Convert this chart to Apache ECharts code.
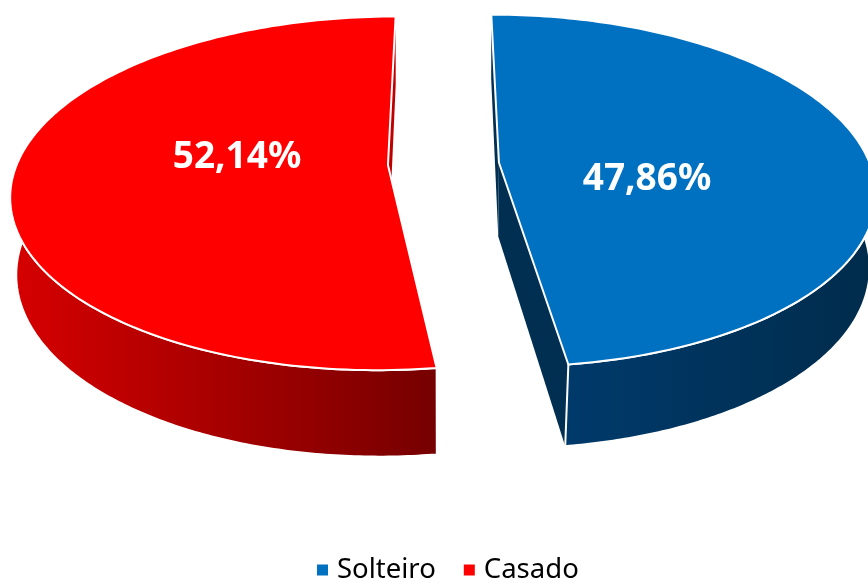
<!DOCTYPE html>
<html>
<head>
<meta charset="utf-8">
<title>Estado civil</title>
<script src="https://cdn.jsdelivr.net/npm/echarts@6/dist/echarts.min.js"></script>
<style>
html, body { margin: 0; padding: 0; background: #fff; }
#chart { width: 868px; height: 583px; }
</style>
</head>
<body>
<div id="chart"></div>
<script>
// dados
var categories = ['Solteiro', 'Casado'];
var shares = [47.86, 52.14];

// cores
var topColors = ['#0070c0', '#ff0000'];
var wallColors = ['#002f52', '#c00000'];
var sideStops = [['#003a6b', '#002c4c'], ['#d60000', '#760000']];
var sideRange = [[567, 868], [13, 436]];
var explode = [[55.5, -1.5], [-55.5, 1]];
var labelPos = [[647, 179], [237, 157]];
var depths = [75, 79];

// projecao do disco inclinado (perspectiva)
var cx = 443.5, cy = 164, radiusX = 371, radiusY = 172, tilt = 0.16, tiltLow = 0.15, shrink = 0.012;

function project(slice, theta, r, low) {
    var u = explode[slice][0] + radiusX * r * Math.sin(theta);
    var v = explode[slice][1] - radiusY * r * Math.cos(theta);
    var w = low ? 1 - tiltLow * v / radiusY + shrink : 1 - tilt * v / radiusY;
    return [cx + u / w, cy + (v + (low ? depths[slice] : 0)) / w];
}

function arcPoints(slice, from, to, low) {
    var pts = [], n = 160;
    for (var i = 0; i <= n; i++) {
        pts.push(project(slice, from + (to - from) * i / n, 1, low));
    }
    return pts;
}

function renderSlice(slice) {
    return function (params, api) {
        var total = shares[0] + shares[1];
        var start = slice === 0 ? 0 : shares[0] / total * Math.PI * 2;
        var end = start + api.value(0) / total * Math.PI * 2;

        // parte de fora visivel: so a metade da frente do disco
        var sideFrom = Math.max(start, Math.PI / 2 - 0.1);
        var sideTo = Math.min(end, Math.PI * 1.5 + 0.1);
        var sideTop = arcPoints(slice, sideFrom, sideTo, false);
        var sideLow = arcPoints(slice, sideFrom, sideTo, true).reverse();

        var apex = project(slice, 0, 0, false);
        var apexLow = project(slice, 0, 0, true);
        var edge = slice === 0 ? end : start;
        var backEdge = slice === 0 ? start : end;

        var children = [];
        // parede de tras
        children.push({
            type: 'polygon',
            shape: { points: [project(slice, backEdge, 1, false), apex, apexLow, project(slice, backEdge, 1, true)] },
            style: { fill: wallColors[slice] }
        });
        // parede da frente (so o azul mostra)
        if (slice === 0) {
            children.push({
                type: 'polygon',
                shape: { points: [apex, project(slice, edge, 1, false), project(slice, edge, 1, true), apexLow] },
                style: { fill: wallColors[slice] }
            });
        }
        children.push({
            type: 'polygon',
            shape: { points: sideTop.concat(sideLow) },
            style: {
                fill: new echarts.graphic.LinearGradient(sideRange[slice][0], 0, sideRange[slice][1], 0, [
                    { offset: 0, color: sideStops[slice][0] },
                    { offset: 1, color: sideStops[slice][1] }
                ], true),
                stroke: '#fff',
                lineWidth: 2
            }
        });
        // face de cima
        children.push({
            type: 'polygon',
            shape: { points: [apex].concat(arcPoints(slice, start, end, false)) },
            style: { fill: topColors[slice], stroke: '#fff', lineWidth: 2, lineJoin: 'round' }
        });
        children.push({
            type: 'text',
            style: {
                x: labelPos[slice][0],
                y: labelPos[slice][1],
                text: api.value(0).toFixed(2).replace('.', ',') + '%',
                fill: '#fff',
                font: 'bold 37px "Noto Sans"',
                align: 'center',
                verticalAlign: 'middle'
            }
        });
        return { type: 'group', children: children };
    };
}

var myChart = echarts.init(document.getElementById('chart'), null, { renderer: 'canvas' });

var series = categories.map(function (name, i) {
    return {
        name: name,
        type: 'custom',
        coordinateSystem: 'none',
        renderItem: renderSlice(i),
        itemStyle: { color: topColors[i] },
        data: [[shares[i]]],
        silent: true,
        clip: false
    };
});

var option = {
    backgroundColor: '#fff',
    animation: false,
    legend: {
        data: categories,
        left: 312,
        top: 556,
        icon: 'rect',
        itemWidth: 11,
        itemHeight: 11,
        itemGap: 28,
        padding: [0, 0, 0, 5],
        selectedMode: false,
        textStyle: {
            fontFamily: 'Noto Sans',
            fontSize: 27.5,
            color: '#000',
            padding: [0, 0, 0, 4]
        }
    },
    series: series
};

myChart.setOption(option);
</script>
</body>
</html>
